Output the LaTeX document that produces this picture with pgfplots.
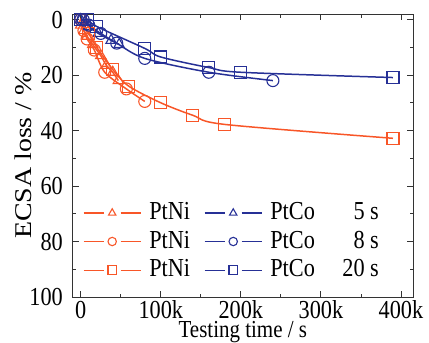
\documentclass[border=0pt]{standalone}
\usepackage{pgfplots}
\pgfplotsset{compat=1.18}
\usepackage{fontspec}
\setmainfont[FakeStretch=0.86]{Liberation Serif}
\newfontfamily\ylfont{Liberation Serif}
\definecolor{cor}{RGB}{248,86,40}
\definecolor{cbl}{RGB}{38,48,150}
\begin{document}
\fontsize{26}{30}\selectfont
\begin{tikzpicture}[x=1bp,y=1bp]
\begin{axis}[name=ax,
  scale only axis, width=340.3bp, height=283bp,
  xmin=-10, xmax=415, ymin=-2, ymax=100, y dir=reverse,
  xtick={0,100,200,300,400}, xticklabels={0,100k,200k,300k,400k},
  ytick={0,20,40,60,80,100}, minor x tick num=1, minor y tick num=1,
  tick align=inside, major tick length=6bp, minor tick length=3.5bp,
  tick style={black!80, line width=0.9pt},
  axis line style={black!80, line width=0.9pt},
  /pgf/number format/assume math mode=true,
  ticklabel style={font=\fontsize{26}{30}\selectfont},
  xticklabel style={yshift=5bp},
  yticklabel style={xshift=-1bp},
  xlabel={Testing time / s},
  ylabel={\scalebox{1}[0.86]{\ylfont\fontsize{28}{30}\selectfont ECSA loss / \%}},
  label style={font=\fontsize{26}{30}\selectfont},
  xlabel style={at={(axis description cs:0.5,0)}, anchor=base, yshift=-40.5bp, font=\fontsize{24.5}{28}\selectfont},
  ylabel style={at={(axis description cs:-0.146,0.5)}, anchor=center},
  every axis plot/.append style={line width=1.5pt, mark size=6bp, mark options={solid, fill=white, line width=1.1pt}},
  legend columns=3,
  legend style={at={(axis description cs:0.03,0.05)}, anchor=south west, draw=none, fill=none,
    font=\fontsize{26}{30}\selectfont, row sep=3.5bp, inner sep=0pt,
    /tikz/every even column/.append style={column sep=12bp},
    /tikz/every odd column/.append style={column sep=6bp}},
  legend image code/.code={
    \draw[#1, mark=none, line width=1.2pt] (0bp,0bp) -- (20bp,0bp);
    \draw[#1, mark=none, line width=1.2pt] (37bp,0bp) -- (57bp,0bp);
    \draw[#1, line width=0.9pt, mark size=4.2bp] plot coordinates {(28.5bp,0bp)};
  },
]
% PtNi 5 s
\addplot[cor, smooth, tension=0.5, mark=triangle] coordinates {(0,2) (4,4) (8,6) (15,9) (25,13) (32,16.5) (40,19) (47,22)};
\addlegendentry{PtNi}
% PtCo 5 s
\addplot[cbl, smooth, tension=0.5, mark=triangle] coordinates {(0,0) (5,1) (10,2.5) (22,5) (38,7.5) (48,9)};
\addlegendentry{PtCo}
\addlegendimage{empty legend}
\addlegendentry{\makebox[42bp][r]{5 s}}
% PtNi 8 s
\addplot[cor, smooth, tension=0.5, mark=o] coordinates {(0,0) (4,4) (8,7) (17,11) (30,19) (57,25) (80,29.5)};
\addlegendentry{PtNi}
% PtCo 8 s
\addplot[cbl, smooth, tension=0.5, mark=o] coordinates {(0,0) (3,0) (10,2) (25,5) (45,8.5) (80,14) (160,19) (240,22)};
\addlegendentry{PtCo}
\addlegendimage{empty legend}
\addlegendentry{\makebox[42bp][r]{8 s}}
% PtNi 20 s
\addplot[cor, smooth, tension=0.5, mark=square] coordinates {(0,0) (10,5) (20,10) (40,18) (60,24) (100,30) (140,34.5) (180,37.8) (390,42.8)};
\addlegendentry{PtNi}
% PtCo 20 s
\addplot[cbl, smooth, tension=0.5, mark=square] coordinates {(0,0) (9,0) (20,2.5) (80,10.4) (100,13.5) (160,17.3) (200,19) (390,20.9)};
\addlegendentry{PtCo}
\addlegendimage{empty legend}
\addlegendentry{\makebox[42bp][r]{20 s}}
\end{axis}
\pgfresetboundingbox
\path ([shift={(-72.7bp,-46bp)}]ax.south west) rectangle ([shift={(16bp,14bp)}]ax.north east);
\end{tikzpicture}
\end{document}
